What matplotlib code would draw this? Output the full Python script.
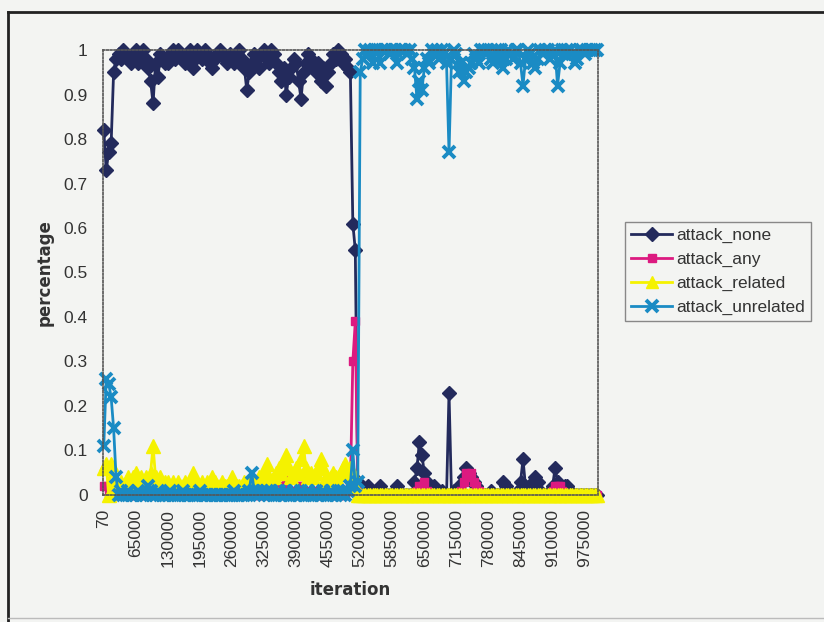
import numpy as np
import matplotlib.pyplot as plt
from matplotlib.lines import Line2D

# iterações amostradas (mais densas no início e na transição)
iteracoes = ([70, 5000, 10000, 15000, 20000, 25000]
             + list(range(30000, 500001, 5000))
             + [505000, 510000, 515000]
             + list(range(520000, 1000001, 5000)))

attack_none = [
    0.82, 0.73, 0.77, 0.79, 0.95, 0.98,                          # 70-25k
    0.99, 0.98, 1.00, 0.99, 0.98, 0.97, 0.99, 1.00, 0.97, 0.98,  # 30k-75k
    1.00, 0.98, 0.96, 0.93, 0.88, 0.97, 0.94, 0.99, 0.98, 0.97,  # 80k-125k
    0.97, 0.99, 1.00, 0.98, 1.00, 0.99, 0.98, 0.97, 0.99, 1.00,  # 130k-175k
    0.96, 0.98, 1.00, 0.99, 0.98, 1.00, 0.99, 0.97, 0.96, 0.98,  # 180k-225k
    0.99, 1.00, 0.99, 0.98, 0.97, 0.99, 0.98, 0.97, 0.99, 1.00,  # 230k-275k
    0.98, 0.96, 0.91, 0.95, 0.97, 0.99, 0.98, 0.96, 0.99, 1.00,  # 280k-325k
    0.98, 0.97, 1.00, 0.99, 0.97, 0.95, 0.93, 0.96, 0.90, 0.94,  # 330k-375k
    0.96, 0.98, 0.97, 0.93, 0.89, 0.95, 0.97, 0.99, 0.98, 0.96,  # 380k-425k
    0.95, 0.97, 0.93, 0.96, 0.92, 0.95, 0.97, 0.99, 0.98, 1.00,  # 430k-475k
    0.99, 0.97, 0.98, 0.96, 0.95,                                # 480k-500k
    0.61, 0.55, 0.03,                                            # 505k-515k
    0.01, 0.00, 0.00, 0.02, 0.00, 0.00, 0.00, 0.00, 0.02, 0.00,  # 520k-565k
    0.00, 0.00, 0.00, 0.00, 0.00, 0.02, 0.00, 0.00, 0.00, 0.00,  # 570k-615k
    0.00, 0.00, 0.03, 0.06, 0.12, 0.09, 0.05, 0.03, 0.02, 0.01,  # 620k-665k
    0.02, 0.01, 0.00, 0.01, 0.00, 0.00, 0.23, 0.00, 0.01, 0.00,  # 670k-715k
    0.02, 0.01, 0.04, 0.06, 0.05, 0.04, 0.03, 0.02, 0.01, 0.00,  # 720k-765k
    0.00, 0.00, 0.00, 0.01, 0.00, 0.00, 0.00, 0.00, 0.03, 0.02,  # 770k-815k
    0.01, 0.00, 0.00, 0.00, 0.01, 0.03, 0.08, 0.02, 0.00, 0.01,  # 820k-865k
    0.03, 0.04, 0.03, 0.01, 0.00, 0.00, 0.00, 0.01, 0.02, 0.06,  # 870k-915k
    0.03, 0.02, 0.01, 0.02, 0.02, 0.01, 0.00, 0.00, 0.00, 0.00,  # 920k-965k
    0.00, 0.00, 0.00, 0.00, 0.00, 0.00, 0.00,                    # 970k-1000k
]

attack_any = [
    0.02, 0.02, 0.00, 0.00, 0.00, 0.00,
    0.00, 0.00, 0.00, 0.01, 0.00, 0.00, 0.00, 0.00, 0.00, 0.01,
    0.00, 0.00, 0.01, 0.00, 0.02, 0.01, 0.00, 0.00, 0.00, 0.00,
    0.00, 0.01, 0.00, 0.00, 0.00, 0.00, 0.00, 0.01, 0.00, 0.00,
    0.00, 0.00, 0.00, 0.00, 0.01, 0.00, 0.00, 0.00, 0.00, 0.00,
    0.00, 0.00, 0.01, 0.00, 0.00, 0.00, 0.00, 0.00, 0.00, 0.01,
    0.00, 0.00, 0.00, 0.00, 0.00, 0.01, 0.00, 0.00, 0.00, 0.00,
    0.00, 0.01, 0.00, 0.00, 0.02, 0.00, 0.01, 0.02, 0.04, 0.01,
    0.00, 0.00, 0.01, 0.02, 0.02, 0.00, 0.00, 0.01, 0.00, 0.00,
    0.00, 0.01, 0.00, 0.00, 0.03, 0.01, 0.00, 0.00, 0.01, 0.00,
    0.00, 0.01, 0.00, 0.01, 0.02,
    0.30, 0.39, 0.01,
    0.00, 0.00, 0.00, 0.00, 0.00, 0.00, 0.00, 0.00, 0.00, 0.00,
    0.00, 0.00, 0.00, 0.00, 0.00, 0.00, 0.00, 0.00, 0.00, 0.00,
    0.00, 0.00, 0.00, 0.01, 0.02, 0.02, 0.03, 0.01, 0.00, 0.00,
    0.00, 0.00, 0.00, 0.00, 0.00, 0.00, 0.00, 0.00, 0.00, 0.00,
    0.00, 0.01, 0.03, 0.05, 0.04, 0.05, 0.03, 0.02, 0.01, 0.00,
    0.00, 0.00, 0.00, 0.00, 0.00, 0.00, 0.00, 0.00, 0.00, 0.00,
    0.00, 0.00, 0.00, 0.00, 0.00, 0.00, 0.00, 0.00, 0.00, 0.00,
    0.00, 0.00, 0.00, 0.00, 0.00, 0.00, 0.00, 0.00, 0.01, 0.02,
    0.02, 0.02, 0.01, 0.00, 0.00, 0.00, 0.00, 0.00, 0.00, 0.00,
    0.00, 0.00, 0.00, 0.00, 0.00, 0.00, 0.00,
]

attack_related = [
    0.06, 0.07, 0.00, 0.07, 0.03, 0.01,
    0.02, 0.03, 0.02, 0.03, 0.04, 0.03, 0.04, 0.05, 0.03, 0.04,
    0.03, 0.04, 0.03, 0.05, 0.11, 0.04, 0.03, 0.04, 0.02, 0.03,
    0.03, 0.02, 0.03, 0.02, 0.03, 0.02, 0.02, 0.03, 0.02, 0.03,
    0.05, 0.03, 0.02, 0.02, 0.03, 0.02, 0.03, 0.02, 0.04, 0.03,
    0.02, 0.02, 0.03, 0.02, 0.02, 0.03, 0.04, 0.02, 0.02, 0.02,
    0.02, 0.03, 0.02, 0.03, 0.04, 0.02, 0.03, 0.04, 0.03, 0.05,
    0.07, 0.04, 0.03, 0.04, 0.05, 0.06, 0.05, 0.07, 0.09, 0.06,
    0.04, 0.05, 0.06, 0.05, 0.08, 0.11, 0.06, 0.04, 0.05, 0.04,
    0.05, 0.06, 0.08, 0.06, 0.04, 0.03, 0.04, 0.05, 0.04, 0.03,
    0.05, 0.06, 0.07, 0.05, 0.06,
    0.05, 0.02, 0.00,
    0.00, 0.00, 0.00, 0.00, 0.00, 0.00, 0.00, 0.00, 0.00, 0.00,
    0.00, 0.00, 0.00, 0.00, 0.00, 0.00, 0.00, 0.00, 0.00, 0.00,
    0.00, 0.00, 0.00, 0.00, 0.00, 0.00, 0.00, 0.00, 0.00, 0.00,
    0.00, 0.00, 0.00, 0.00, 0.00, 0.00, 0.00, 0.00, 0.00, 0.00,
    0.00, 0.00, 0.00, 0.00, 0.00, 0.00, 0.00, 0.00, 0.00, 0.00,
    0.00, 0.00, 0.00, 0.00, 0.00, 0.00, 0.00, 0.00, 0.00, 0.00,
    0.00, 0.00, 0.00, 0.00, 0.00, 0.00, 0.00, 0.00, 0.00, 0.00,
    0.00, 0.00, 0.00, 0.00, 0.00, 0.00, 0.00, 0.00, 0.00, 0.00,
    0.00, 0.00, 0.00, 0.00, 0.00, 0.00, 0.00, 0.00, 0.00, 0.00,
    0.00, 0.00, 0.00, 0.00, 0.00, 0.00, 0.00,
]

attack_unrelated = [
    0.11, 0.26, 0.25, 0.22, 0.15, 0.04,
    0.00, 0.01, 0.00, 0.00, 0.01, 0.00, 0.00, 0.00, 0.01, 0.00,
    0.00, 0.00, 0.02, 0.01, 0.00, 0.00, 0.01, 0.00, 0.00, 0.00,
    0.00, 0.01, 0.00, 0.00, 0.00, 0.00, 0.01, 0.00, 0.00, 0.00,
    0.00, 0.00, 0.00, 0.01, 0.00, 0.00, 0.00, 0.00, 0.00, 0.00,
    0.00, 0.00, 0.00, 0.00, 0.00, 0.00, 0.00, 0.01, 0.00, 0.00,
    0.00, 0.00, 0.00, 0.01, 0.05, 0.01, 0.01, 0.00, 0.01, 0.00,
    0.01, 0.00, 0.01, 0.00, 0.00, 0.01, 0.00, 0.00, 0.01, 0.00,
    0.00, 0.01, 0.00, 0.00, 0.01, 0.00, 0.00, 0.01, 0.00, 0.00,
    0.01, 0.00, 0.00, 0.01, 0.00, 0.00, 0.01, 0.00, 0.00, 0.01,
    0.00, 0.01, 0.00, 0.01, 0.02,
    0.10, 0.02, 0.03,
    0.95, 0.98, 1.00, 0.99, 1.00, 0.97, 1.00, 1.00, 0.97, 1.00,
    1.00, 1.00, 0.99, 1.00, 1.00, 0.97, 1.00, 1.00, 1.00, 0.99,
    1.00, 0.98, 0.96, 0.89, 0.93, 0.91, 0.96, 0.98, 0.97, 1.00,
    0.99, 1.00, 0.98, 1.00, 0.99, 0.97, 0.77, 0.98, 1.00, 0.99,
    0.95, 0.97, 0.93, 0.95, 0.96, 0.97, 0.99, 0.98, 0.97, 1.00,
    1.00, 0.99, 1.00, 0.98, 0.97, 1.00, 0.98, 1.00, 0.96, 0.98,
    1.00, 0.99, 0.98, 1.00, 1.00, 0.97, 0.92, 0.98, 1.00, 0.99,
    0.97, 0.96, 0.98, 1.00, 0.99, 1.00, 1.00, 0.98, 0.99, 1.00,
    0.92, 0.97, 1.00, 0.99, 1.00, 1.00, 0.99, 0.97, 0.98, 1.00,
    1.00, 0.99, 1.00, 1.00, 1.00, 1.00, 1.00,
]

rotulos_x = ['70', '65000', '130000', '195000', '260000', '325000', '390000',
             '455000', '520000', '585000', '650000', '715000', '780000',
             '845000', '910000', '975000']
posicoes_x = [70] + [65000 * i for i in range(1, 16)]
rotulos_y = ['0', '0.1', '0.2', '0.3', '0.4', '0.5', '0.6', '0.7', '0.8', '0.9', '1']

fundo = '#f3f4f2'
texto = '#333333'

fig = plt.figure(figsize=(8.24, 6.22), dpi=100, facecolor=fundo)
ax = fig.add_axes([0.125, 0.2042, 0.6007, 0.7154], facecolor=fundo)

series = [
    ('attack_none', attack_none, '#232a5c', 'D', 7.5, {}),
    ('attack_any', attack_any, '#dc1a80', 's', 6, {}),
    ('attack_related', attack_related, '#f5f200', '^', 10, {}),
    ('attack_unrelated', attack_unrelated, '#1a8bc4', 'x', 8, {'markeredgewidth': 2.8}),
]
for nome, valores, cor, marcador, tam, extra in series:
    ax.plot(iteracoes, valores, color=cor, marker=marcador, markersize=tam,
            linewidth=2, clip_on=False, label=nome, **extra)

ax.set_xlim(-1500, 1002000)
ax.set_ylim(0, 1)
ax.set_xticks(posicoes_x)
ax.set_xticklabels(rotulos_x, rotation=90, fontsize=12.5, family='Liberation Sans', color=texto)
ax.set_yticks(np.arange(0, 1.01, 0.1))
ax.set_yticklabels(rotulos_y, fontsize=12.5, family='Liberation Sans', color=texto)
ax.tick_params(axis='x', length=0, pad=10)
ax.tick_params(axis='y', length=0, pad=11)

for s in ax.spines.values():
    s.set_linestyle((0, (1, 1.2)))
    s.set_color('#555555')
    s.set_linewidth(1.2)

ax.set_xlabel('iteration', fontsize=12, fontweight='bold', family='DejaVu Sans', color=texto, labelpad=10)
ax.set_ylabel('percentage', fontsize=12, fontweight='bold', family='DejaVu Sans', color=texto, labelpad=7)

leg = ax.legend(loc='upper left', bbox_to_anchor=(0.758, 0.643), bbox_transform=fig.transFigure,
                borderaxespad=0, frameon=True, fancybox=False, edgecolor='#888888',
                facecolor=fundo, framealpha=1, handlelength=2.4, handletextpad=0.2,
                labelspacing=0.5, borderpad=0.35,
                prop={'family': 'Liberation Sans', 'size': 12.5}, labelcolor=texto)
for h in leg.legend_handles:
    h.set_markersize(min(h.get_markersize(), 8))

# moldura da figura digitalizada
fig.add_artist(Line2D([8 / 824, 1], [1 - 12 / 622] * 2, color='#222222', lw=2))
fig.add_artist(Line2D([8 / 824] * 2, [0, 1 - 12 / 622], color='#222222', lw=2))
fig.add_artist(Line2D([8 / 824, 1], [4 / 622] * 2, color='#bbbbbb', lw=1))

fig.savefig('out.png', dpi=100, facecolor=fundo)
